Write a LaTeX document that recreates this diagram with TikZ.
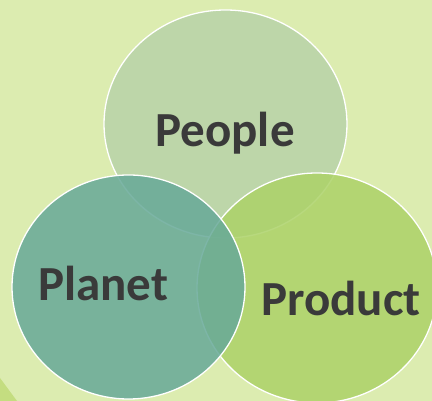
\documentclass[tikz,border=0pt]{standalone}
\usepackage{fontspec}
\setmainfont{Carlito}
\usepackage{tikz}
\usetikzlibrary{positioning}
\definecolor{bgcol}{HTML}{DCECB0}
\definecolor{cornercol}{HTML}{C4DD80}
\definecolor{peoplecol}{HTML}{B8D3A8}
\definecolor{planetcol}{HTML}{67A998}
\definecolor{productcol}{HTML}{ACD268}
\definecolor{txtcol}{HTML}{3A3A3A}
\tikzset{
  circ/.style={draw=white, line width=1.3pt, fill opacity=0.85},
  lbl/.style={font=\bfseries\fontsize{49}{54}\selectfont, text=txtcol, inner sep=0pt}
}

\begin{document}
\begin{tikzpicture}[x=1pt,y=-1pt]

% ================= Background =================
\fill[bgcol] (0,0) rectangle (432,401);
\useasboundingbox (0,0) rectangle (432,401);
\clip (0,0) rectangle (432,401);
\fill[cornercol] (0,378) -- (17,401) -- (0,401) -- cycle;

% ================= Circles =================
\draw[circ, fill=peoplecol]  (225.5,124) ellipse [x radius=121.5, y radius=114];
\draw[circ, fill=productcol] (317,288)   ellipse [x radius=120,   y radius=115];
\draw[circ, fill=planetcol]  (128.5,287) ellipse [x radius=116.5, y radius=112];

% ================= Labels =================
\node[lbl] (people)  at (225,133) {People};
\node[lbl] (planet)  at (103,283) {Planet};
\node[lbl] (product) at (341,298) {Product};

\end{tikzpicture}
\end{document}
